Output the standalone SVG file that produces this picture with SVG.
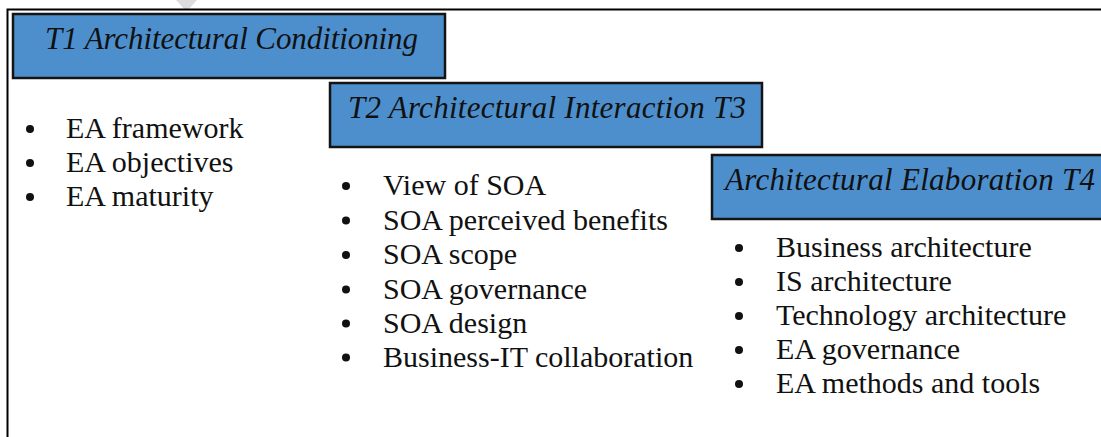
<svg xmlns="http://www.w3.org/2000/svg" width="1101" height="437" viewBox="0 0 1101 437">
<style>
.box{fill:#4d8fcd;stroke:#141414;stroke-width:2.5}
.head{font-family:"Liberation Serif",serif;font-style:italic;font-size:31px;fill:#111}
.item{font-family:"Liberation Serif",serif;font-size:30px;fill:#111}
.dot{fill:#111}
</style>
<rect x="0" y="0" width="1101" height="437" fill="#ffffff"/>
<polygon points="176,0 197,0 188,10 185,10" fill="#dcdcdc"/>
<g id="frame">
<path d="M7.5,437 V9.5 H1101" fill="none" stroke="#000" stroke-width="2"/>
</g>
<g id="connectors"></g>
<g id="t1">
<rect class="box" x="13" y="14" width="432" height="64"/>
<text class="head" x="45" y="49" textLength="373">T1 Architectural Conditioning</text>
<circle class="dot" cx="30" cy="129" r="4"/>
<circle class="dot" cx="30" cy="163" r="4"/>
<circle class="dot" cx="30" cy="197" r="4"/>
<text class="item" x="66" y="138">EA framework</text>
<text class="item" x="66" y="172">EA objectives</text>
<text class="item" x="66" y="206">EA maturity</text>
</g>
<g id="t2">
<rect class="box" x="330" y="83" width="432" height="64"/>
<text class="head" x="348" y="118" textLength="398">T2 Architectural Interaction T3</text>
<circle class="dot" cx="346" cy="186" r="4"/>
<circle class="dot" cx="346" cy="220.5" r="4"/>
<circle class="dot" cx="346" cy="255" r="4"/>
<circle class="dot" cx="346" cy="289.5" r="4"/>
<circle class="dot" cx="346" cy="323.5" r="4"/>
<circle class="dot" cx="346" cy="357.5" r="4"/>
<text class="item" x="383" y="195">View of SOA</text>
<text class="item" x="383" y="229.5">SOA perceived benefits</text>
<text class="item" x="383" y="264">SOA scope</text>
<text class="item" x="383" y="298.5">SOA governance</text>
<text class="item" x="383" y="332.5">SOA design</text>
<text class="item" x="383" y="366.5">Business-IT collaboration</text>
</g>
<g id="t4">
<rect class="box" x="712" y="155" width="400" height="64"/>
<text class="head" x="725" y="190" textLength="370">Architectural Elaboration T4</text>
<circle class="dot" cx="739" cy="248" r="4"/>
<circle class="dot" cx="739" cy="282" r="4"/>
<circle class="dot" cx="739" cy="316" r="4"/>
<circle class="dot" cx="739" cy="350" r="4"/>
<circle class="dot" cx="739" cy="384" r="4"/>
<text class="item" x="776" y="257">Business architecture</text>
<text class="item" x="776" y="291">IS architecture</text>
<text class="item" x="776" y="325">Technology architecture</text>
<text class="item" x="776" y="359">EA governance</text>
<text class="item" x="776" y="393">EA methods and tools</text>
</g>
</svg>
